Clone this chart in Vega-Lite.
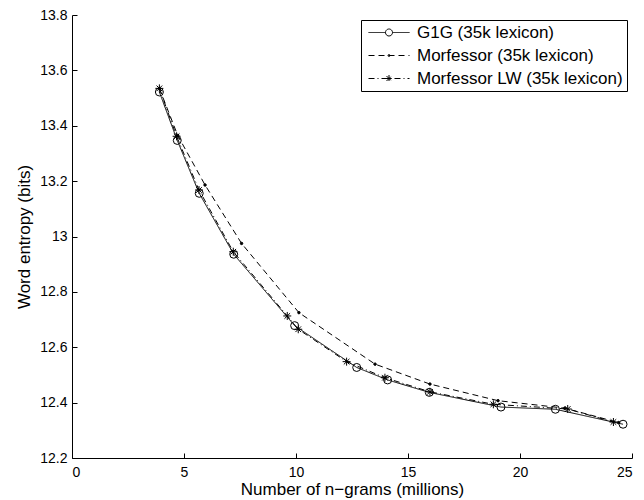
{
  "$schema": "https://vega.github.io/schema/vega-lite/v6.json",
  "width": 560,
  "height": 443,
  "autosize": {"type": "none"},
  "padding": {"left": 72, "top": 15, "right": 12, "bottom": 42},
  "background": "white",
  "config": {
    "view": {"stroke": null},
    "font": "Liberation Sans",
    "axis": {
      "domainColor": "black",
      "tickColor": "black",
      "labelColor": "black",
      "titleColor": "black",
      "labelFont": "Liberation Sans",
      "titleFont": "Liberation Sans",
      "labelFontSize": 14,
      "titleFontSize": 17,
      "titleFontWeight": "normal",
      "grid": false,
      "tickSize": -5,
      "domainWidth": 1,
      "tickWidth": 1
    }
  },
  "data": {
    "values": [
      {"series": "G1G (35k lexicon)", "x": 3.90, "y": 13.522},
      {"series": "G1G (35k lexicon)", "x": 4.70, "y": 13.347},
      {"series": "G1G (35k lexicon)", "x": 5.68, "y": 13.156},
      {"series": "G1G (35k lexicon)", "x": 7.22, "y": 12.936},
      {"series": "G1G (35k lexicon)", "x": 9.94, "y": 12.678},
      {"series": "G1G (35k lexicon)", "x": 12.71, "y": 12.527},
      {"series": "G1G (35k lexicon)", "x": 14.09, "y": 12.482},
      {"series": "G1G (35k lexicon)", "x": 15.95, "y": 12.437},
      {"series": "G1G (35k lexicon)", "x": 19.15, "y": 12.384},
      {"series": "G1G (35k lexicon)", "x": 21.58, "y": 12.376},
      {"series": "G1G (35k lexicon)", "x": 24.60, "y": 12.322},
      {"series": "Morfessor (35k lexicon)", "x": 3.90, "y": 13.535},
      {"series": "Morfessor (35k lexicon)", "x": 4.72, "y": 13.365},
      {"series": "Morfessor (35k lexicon)", "x": 5.94, "y": 13.186},
      {"series": "Morfessor (35k lexicon)", "x": 7.57, "y": 12.975},
      {"series": "Morfessor (35k lexicon)", "x": 10.13, "y": 12.725},
      {"series": "Morfessor (35k lexicon)", "x": 13.53, "y": 12.539},
      {"series": "Morfessor (35k lexicon)", "x": 15.98, "y": 12.467},
      {"series": "Morfessor (35k lexicon)", "x": 19.02, "y": 12.407},
      {"series": "Morfessor (35k lexicon)", "x": 22.00, "y": 12.380},
      {"series": "Morfessor (35k lexicon)", "x": 24.40, "y": 12.328},
      {"series": "Morfessor LW (35k lexicon)", "x": 3.90, "y": 13.535},
      {"series": "Morfessor LW (35k lexicon)", "x": 4.67, "y": 13.362},
      {"series": "Morfessor LW (35k lexicon)", "x": 5.67, "y": 13.168},
      {"series": "Morfessor LW (35k lexicon)", "x": 7.20, "y": 12.945},
      {"series": "Morfessor LW (35k lexicon)", "x": 9.61, "y": 12.713},
      {"series": "Morfessor LW (35k lexicon)", "x": 10.10, "y": 12.665},
      {"series": "Morfessor LW (35k lexicon)", "x": 12.26, "y": 12.548},
      {"series": "Morfessor LW (35k lexicon)", "x": 13.97, "y": 12.490},
      {"series": "Morfessor LW (35k lexicon)", "x": 15.98, "y": 12.439},
      {"series": "Morfessor LW (35k lexicon)", "x": 18.81, "y": 12.394},
      {"series": "Morfessor LW (35k lexicon)", "x": 22.13, "y": 12.377},
      {"series": "Morfessor LW (35k lexicon)", "x": 24.17, "y": 12.330}
    ]
  },
  "encoding": {
    "x": {
      "field": "x",
      "type": "quantitative",
      "scale": {"domain": [0, 25], "nice": false, "zero": false},
      "axis": {"values": [0, 5, 10, 15, 20, 25], "title": "Number of n−grams (millions)", "labelPadding": 12, "titlePadding": 2}
    },
    "y": {
      "field": "y",
      "type": "quantitative",
      "scale": {"domain": [12.2, 13.8], "nice": false, "zero": false},
      "axis": {"values": [12.2, 12.4, 12.6, 12.8, 13, 13.2, 13.4, 13.6, 13.8], "format": "~g", "title": "Word entropy (bits)", "labelPadding": 10, "titlePadding": 6}
    }
  },
  "layer": [
    {
      "mark": {"type": "line", "color": "black", "strokeWidth": 1},
      "encoding": {
        "strokeDash": {
          "field": "series",
          "type": "nominal",
          "scale": {
            "domain": ["G1G (35k lexicon)", "Morfessor (35k lexicon)", "Morfessor LW (35k lexicon)"],
            "range": [[1, 0], [6, 4], [6, 3, 1, 3]]
          },
          "legend": {
            "title": null,
            "orient": "top-right",
            "offset": 5,
            "strokeColor": "black",
            "fillColor": "white",
            "padding": 4,
            "rowPadding": 5,
            "labelFont": "Liberation Sans",
            "labelFontSize": 17,
            "labelLimit": 0,
            "labelColor": "black",
            "labelOffset": 35,
            "symbolSize": 100,
            "symbolStrokeColor": "black",
            "symbolStrokeWidth": 1,
            "symbolFillColor": "transparent",
            "encode": {
              "symbols": {
                "update": {
                  "shape": {"signal": "datum.value == 'G1G (35k lexicon)' ? 'M-1,0L2.4,0M3.8,0L7.2,0M2.4,0A0.7,0.7 0 1 1 3.8,0A0.7,0.7 0 1 1 2.4,0' : (datum.value == 'Morfessor (35k lexicon)' ? 'M-1,0L7.2,0M2.9,0A0.2,0.2 0 1 1 3.3,0A0.2,0.2 0 1 1 2.9,0' : 'M-1,0L7.2,0M2.4,0L3.8,0M3.1,-0.7L3.1,0.7M2.6,-0.5L3.6,0.5M2.6,0.5L3.6,-0.5')"}
                }
              }
            }
          }
        }
      }
    },
    {
      "transform": [{"filter": "datum.series == 'G1G (35k lexicon)'"}],
      "mark": {"type": "point", "shape": "circle", "size": 64, "stroke": "black", "strokeWidth": 1, "fill": "transparent", "filled": false, "opacity": 1}
    },
    {
      "transform": [{"filter": "datum.series == 'Morfessor (35k lexicon)'"}],
      "mark": {"type": "point", "shape": "circle", "size": 6, "stroke": "black", "strokeWidth": 1, "fill": "black", "filled": true, "opacity": 1}
    },
    {
      "transform": [{"filter": "datum.series == 'Morfessor LW (35k lexicon)'"}],
      "mark": {"type": "point", "shape": "M-1,0L1,0M0,-1L0,1M-0.7,-0.7L0.7,0.7M-0.7,0.7L0.7,-0.7", "size": 64, "stroke": "black", "strokeWidth": 1, "fill": "transparent", "filled": false, "opacity": 1}
    }
  ]
}
